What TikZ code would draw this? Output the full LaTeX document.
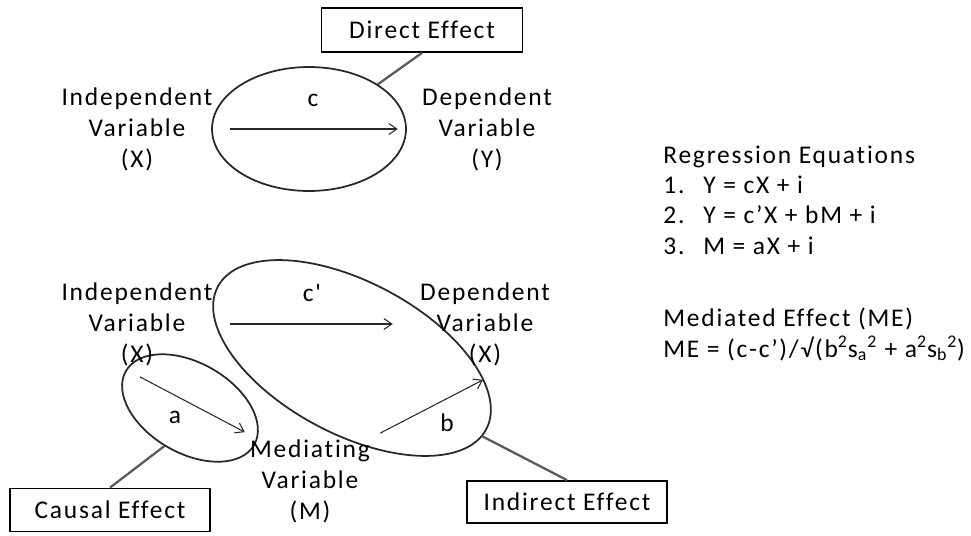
\documentclass[tikz,border=0pt]{standalone}
\usepackage{fontspec}
\setmainfont{Carlito}
\newfontfamily\scanfont[LetterSpace=7, Ligatures=NoCommon]{Carlito}
\usepackage{tikz}
\usetikzlibrary{shapes.geometric, arrows.meta, positioning, calc}
\definecolor{inkline}{RGB}{40, 40, 40}
\definecolor{linkgray}{RGB}{90, 90, 90}
\newcommand{\diagfont}{\scanfont\fontsize{14.5}{17.6}\selectfont}
\newcommand{\eqfont}{\scanfont\fontsize{14.5}{17.1}\selectfont}

\begin{document}
\begin{tikzpicture}[
    x=0.02cm, y=-0.02cm,
    oval/.style={ellipse, draw=inkline, line width=1pt, inner sep=0pt},
    effectbox/.style={rectangle, draw=black, line width=1pt, minimum width=4cm, minimum height=0.86cm, font=\diagfont},
    varlabel/.style={align=center, inner sep=0pt, font=\diagfont},
    coef/.style={inner sep=1pt, font=\diagfont},
    arrow/.style={-{Straight Barb[length=1.6mm, width=2.2mm]}, line width=0.6pt, inkline},
    effectlink/.style={line width=1.3pt, linkgray}
]
    \useasboundingbox (0,0) rectangle (971,535);

    % Total effect
    \node (direll) [oval, minimum width=3.88cm, minimum height=2.48cm] at (309,129) {};
    \node (indep1) [varlabel] at (137,129) {Independent\\Variable\\(X)};
    \node (dep1) [varlabel] at (487,129) {Dependent\\Variable\\(Y)};
    \node (direct) [effectbox, minimum width=4.02cm, minimum height=0.88cm] at (422,30) {Direct Effect};
    \node (labc) [coef] at (313,100) {c};

    % Mediation model
    \node (medell) [oval, rotate=-28, minimum width=6.08cm, minimum height=3.04cm] at (352,358) {};
    \node (causell) [oval, rotate=-30, minimum width=2.96cm, minimum height=1.8cm] at (190,408) {};
    \node (indep2) [varlabel] at (137,324) {Independent\\Variable\\(X)};
    \node (dep2) [varlabel] at (485,324) {Dependent\\Variable\\(X)};
    \node (medvar) [varlabel] at (310,481) {Mediating\\Variable\\(M)};
    \node (labcp) [coef] at (312,293) {c'};
    \node (laba) [coef] at (175,417) {a};
    \node (labb) [coef] at (447,423) {b};
    \node (causal) [effectbox] at (110,510) {Causal Effect};
    \node (indirect) [effectbox, minimum height=0.84cm] at (567,502) {Indirect Effect};

    % Equations
    \node (regeq) [anchor=north west, align=left, inner sep=0pt, font=\eqfont] at (663,146)
        {Regression Equations\\
         \makebox[0.8cm][l]{1.}Y = cX + i\\
         \makebox[0.8cm][l]{2.}Y = c’X + bM + i\\
         \makebox[0.8cm][l]{3.}M = aX + i};
    \node (medeff) [anchor=north west, align=left, inner sep=0pt, font=\eqfont] at (663,308)
        {Mediated Effect (ME)\\
         ME = (c-c’)/√(b\textsuperscript{2}s\textsubscript{a}\textsuperscript{2} + a\textsuperscript{2}s\textsubscript{b}\textsuperscript{2})};

    % Paths
    \draw [arrow, shorten <=0.34cm, shorten >=0.48cm] (indep1) -- (dep1);
    \draw [arrow, shorten <=0.34cm, shorten >=0.54cm] (indep2) -- (dep2);
    \draw [arrow] ($(indep2.south)+(3,11)$) -- ($(medvar.north west)+(-5,-7)$);
    \draw [arrow] ($(medvar.north east)+(10,-6)$) -- ($(dep2.south)+(-2,14)$);

    % Effect links
    \draw [effectlink] (direct.south) -- (direll.33.5);
    \draw [effectlink] (causell.266) -- (causal.north);
    \draw [effectlink] (medell.-3) -- (indirect.north);
\end{tikzpicture}
\end{document}
